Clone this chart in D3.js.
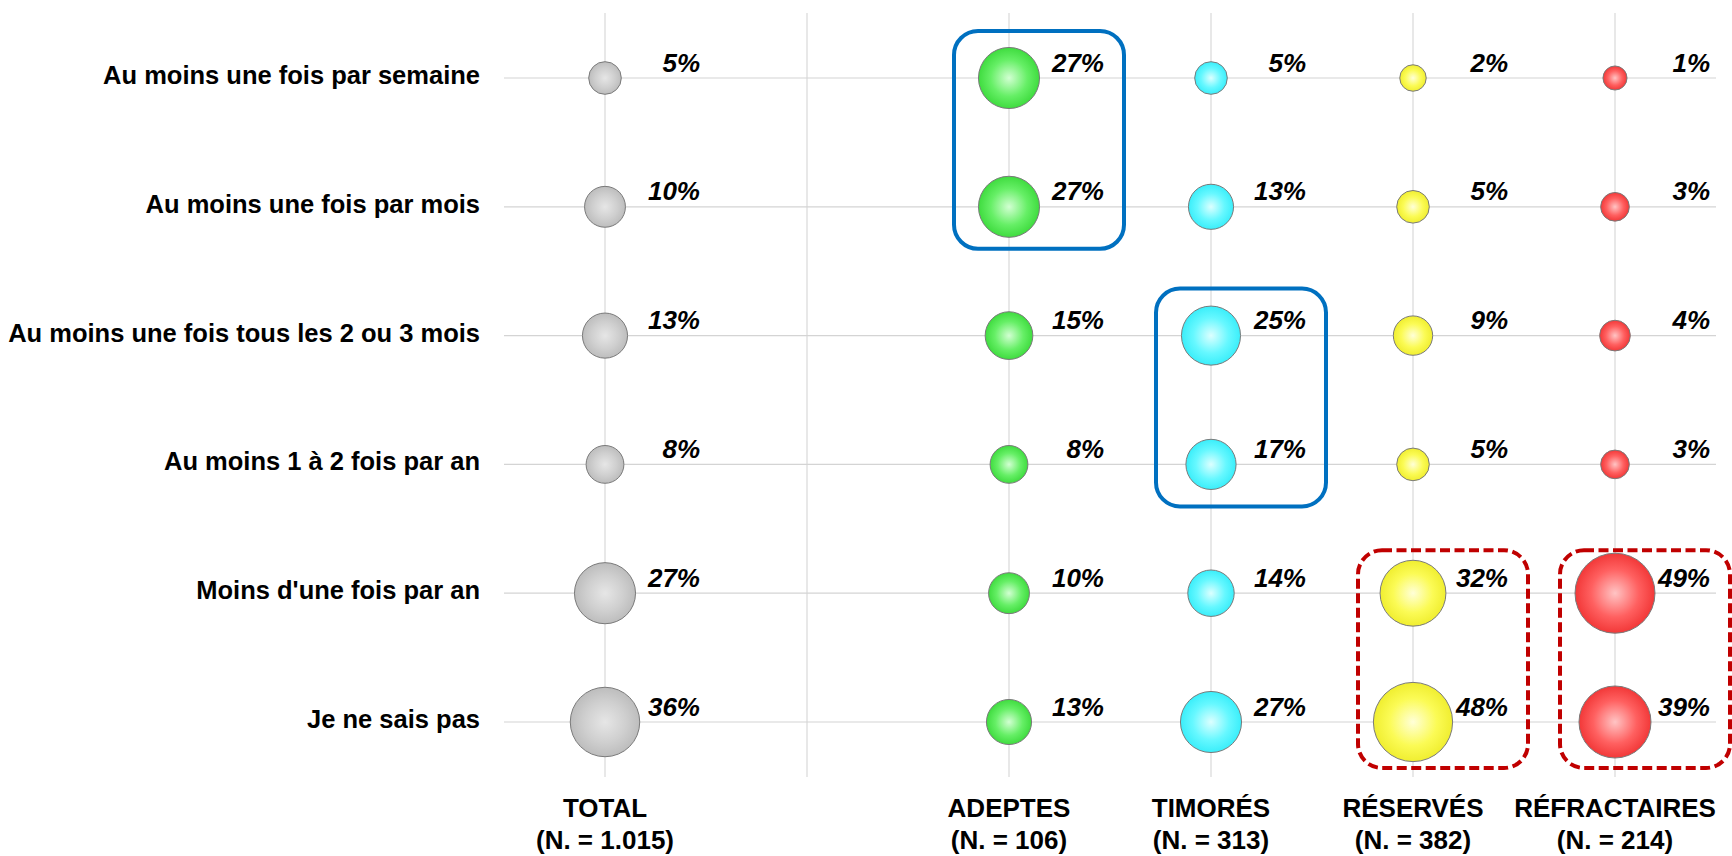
<!DOCTYPE html>
<html>
<head>
<meta charset="utf-8">
<script src="https://cdn.jsdelivr.net/npm/d3@7/dist/d3.min.js"></script>
<style>
  html, body { margin: 0; padding: 0; background: #ffffff; }
  svg { display: block; font-family: "Liberation Sans", Arial, sans-serif; }
</style>
</head>
<body>
<svg id="chart" width="1732" height="856"></svg>
<script>
// ---------- DATA ----------
const rowLabels = [
  "Au moins une fois par semaine",
  "Au moins une fois par mois",
  "Au moins une fois tous les 2 ou 3 mois",
  "Au moins 1 à 2 fois par an",
  "Moins d'une fois par an",
  "Je ne sais pas"
];
const groupNames = ["TOTAL", "ADEPTES", "TIMORÉS", "RÉSERVÉS", "RÉFRACTAIRES"];
const groupN = ["(N. = 1.015)", "(N. = 106)", "(N. = 313)", "(N. = 382)", "(N. = 214)"];

const totalValues        = [5, 10, 13, 8, 27, 36];
const adeptesValues      = [27, 27, 15, 8, 10, 13];
const timoresValues      = [5, 13, 25, 17, 14, 27];
const reservesValues     = [2, 5, 9, 5, 32, 48];
const refractairesValues = [1, 3, 4, 3, 49, 39];

// highlighted groups: [group, first row index, last row index]
const solidHighlights  = [["ADEPTES", 0, 1], ["TIMORÉS", 2, 3]];
const dashedHighlights = [["RÉSERVÉS", 4, 5], ["RÉFRACTAIRES", 4, 5]];

// ---------- BUILD ----------
const seriesValues = [totalValues, adeptesValues, timoresValues, reservesValues, refractairesValues];
const palette = {
  "TOTAL":        { edge: "#bdbdbd", mid: "#cfcfcf", center: "#e6e6e6" },
  "ADEPTES":      { edge: "#3fdc3f", mid: "#66ef66", center: "#d2ffd2" },
  "TIMORÉS":      { edge: "#3aeefa", mid: "#66f8ff", center: "#dcffff" },
  "RÉSERVÉS":     { edge: "#f0ee30", mid: "#fbfb55", center: "#ffffd8" },
  "RÉFRACTAIRES": { edge: "#f23838", mid: "#ff6060", center: "#ffc4c4" }
};

const points = [];
groupNames.forEach((g, gi) => {
  seriesValues[gi].forEach((v, ri) => points.push({ group: g, row: rowLabels[ri], value: v }));
});

const svg = d3.select("#chart");

// columns: TOTAL, an empty spacer column, then the four segments
const xDomain = ["TOTAL", "__spacer__", ...groupNames.slice(1)];
const x = d3.scalePoint().domain(xDomain).range([605, 1615]);
const step = x.step();
const y = d3.scalePoint().domain(rowLabels).range([78, 722]);

// bubble size: area linear in value with an offset (as in the source chart)
const area = d3.scaleLinear().domain([0, 49]).range([10.7 * 10.7, 40 * 40]);
const radius = v => Math.sqrt(area(v));

// gradients
const defs = svg.append("defs");
groupNames.forEach((g, i) => {
  const c = palette[g];
  const grad = defs.append("radialGradient").attr("id", "grad" + i)
    .attr("cx", "50%").attr("cy", "50%").attr("r", "50%");
  grad.append("stop").attr("offset", "0%").attr("stop-color", c.center);
  grad.append("stop").attr("offset", "60%").attr("stop-color", c.mid);
  grad.append("stop").attr("offset", "100%").attr("stop-color", c.edge);
});

const gridTop = y(rowLabels[0]) - 65;
const gridBottom = y(rowLabels[rowLabels.length - 1]) + 55;
const gridLeft = x(xDomain[0]) - step / 2;
const gridRight = x(xDomain[xDomain.length - 1]) + step / 2;

// vertical gridlines
svg.append("g").selectAll("line").data(xDomain).join("line")
  .attr("x1", d => x(d)).attr("x2", d => x(d))
  .attr("y1", gridTop).attr("y2", gridBottom)
  .attr("stroke", "#d9d9d9").attr("stroke-width", 1.2);

// horizontal gridlines
svg.append("g").selectAll("line").data(rowLabels).join("line")
  .attr("x1", gridLeft).attr("x2", gridRight)
  .attr("y1", d => y(d)).attr("y2", d => y(d))
  .attr("stroke", "#d4d4d4").attr("stroke-width", 1.2);

// row labels (left axis)
svg.append("g").selectAll("text").data(rowLabels).join("text")
  .attr("x", gridLeft - 24).attr("y", d => y(d) + 6)
  .attr("text-anchor", "end")
  .attr("font-size", "25.5px").attr("font-weight", "bold").attr("fill", "#000")
  .text(d => d);

// highlight boxes
function boxRect(h, top, bottom) {
  const cx = x(h[0]);
  const y0 = y(rowLabels[h[1]]), y1 = y(rowLabels[h[2]]);
  return { x: cx - 55, y: y0 - top, w: 170, h: (y1 - y0) + top + bottom };
}
svg.append("g").selectAll("rect").data(solidHighlights).join("rect")
  .each(function (h) {
    const b = boxRect(h, 47, 42);
    d3.select(this).attr("x", b.x).attr("y", b.y).attr("width", b.w).attr("height", b.h);
  })
  .attr("rx", 24).attr("ry", 24)
  .attr("fill", "none").attr("stroke", "#0070c0").attr("stroke-width", 4);

svg.append("g").selectAll("rect").data(dashedHighlights).join("rect")
  .each(function (h) {
    const b = boxRect(h, 43, 46);
    d3.select(this).attr("x", b.x).attr("y", b.y).attr("width", b.w).attr("height", b.h);
  })
  .attr("rx", 24).attr("ry", 24)
  .attr("fill", "none").attr("stroke", "#c00000").attr("stroke-width", 4)
  .attr("stroke-dasharray", "10,4.5");

// bubbles
svg.append("g").selectAll("circle").data(points).join("circle")
  .attr("cx", d => x(d.group)).attr("cy", d => y(d.row))
  .attr("r", d => radius(d.value))
  .attr("fill", d => "url(#grad" + groupNames.indexOf(d.group) + ")")
  .attr("stroke", "#7a7a7a").attr("stroke-width", 1);

// value labels
svg.append("g").selectAll("text").data(points).join("text")
  .attr("x", d => x(d.group) + 95).attr("y", d => y(d.row) - 6.5)
  .attr("text-anchor", "end")
  .attr("font-size", "26px").attr("font-weight", "bold").attr("font-style", "italic")
  .attr("fill", "#000")
  .text(d => d.value + "%");

// bottom axis labels
const xl = svg.append("g").selectAll("text").data(groupNames).join("text")
  .attr("x", d => x(d)).attr("y", 817)
  .attr("text-anchor", "middle")
  .attr("font-size", "26px").attr("font-weight", "bold").attr("fill", "#000");
xl.append("tspan").attr("x", d => x(d)).attr("dy", 0).text(d => d);
xl.append("tspan").attr("x", d => x(d)).attr("dy", 32).text((d, i) => groupN[i]);
</script>
</body>
</html>
